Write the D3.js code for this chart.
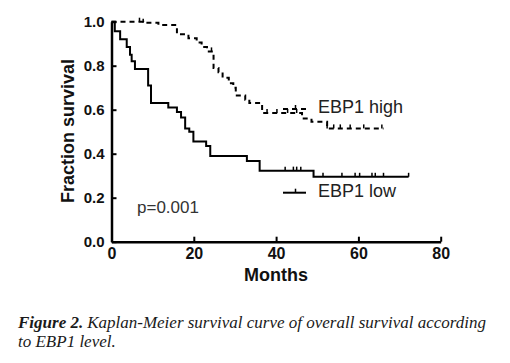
<!DOCTYPE html>
<html>
<head>
<meta charset="utf-8">
<script src="https://cdn.jsdelivr.net/npm/d3@7"></script>
<style>
  body { margin: 0; background: #fff; }
  svg { display: block; }
</style>
</head>
<body>
<div id="chart"></div>
<script>
// Kaplan-Meier steps (months, fraction surviving)
const lowTimes = [0, 0.8, 2.1, 3.7, 4.5, 4.9, 5.7, 8.9, 9.6, 13.8, 15.9, 16.9, 17.9, 18.9, 19.9, 23.0, 24.0, 32.9, 36.0, 49.1, 72.2];
const lowSurv  = [1.0, 0.957, 0.92, 0.885, 0.85, 0.82, 0.785, 0.71, 0.63, 0.61, 0.59, 0.565, 0.515, 0.50, 0.455, 0.435, 0.39, 0.367, 0.323, 0.295, 0.295];
const lowCensor = [42.2, 44.2, 45.0, 46.0, 51.4, 56.0, 59.2, 60.3, 63.3, 64.1, 66.1, 72.2];

const highTimes = [0, 7.7, 11.4, 15.9, 18.7, 20.7, 21.9, 23.2, 24.8, 26.0, 27.0, 28.5, 29.6, 30.2, 32.5, 33.5, 36.6, 46.3, 48.6, 52.4, 66.1];
const highSurv  = [1.0, 0.995, 0.985, 0.943, 0.925, 0.905, 0.885, 0.865, 0.79, 0.77, 0.745, 0.72, 0.70, 0.665, 0.645, 0.63, 0.585, 0.56, 0.545, 0.515, 0.515];
const highCensor = [6.8, 7.7, 24.3, 37.8, 40.2, 42.8, 45.0, 52.4, 54.0, 55.6, 58.0, 61.3, 65.7];

const xTicks = [0, 20, 40, 60, 80];
const yTicks = [0, 0.2, 0.4, 0.6, 0.8, 1.0];
const seriesNames = ["EBP1 high", "EBP1 low"];

function init() {
    const width = 510, height = 363;

    const svg = d3.select("#chart")
        .append("svg")
        .attr("width", width)
        .attr("height", height);

    const x = d3.scaleLinear().domain([0, 80]).range([111.5, 440.7]);
    const y = d3.scaleLinear().domain([0, 1]).range([241.7, 21.7]);

    // axes, ticks point inward
    const xAxis = svg.append("g")
        .attr("transform", `translate(0,${y(0)})`)
        .call(d3.axisBottom(x).tickValues(xTicks).tickSize(-5).tickSizeOuter(0).tickPadding(6).tickFormat(d3.format("d")));
    const yAxis = svg.append("g")
        .attr("transform", `translate(${x(0)},0)`)
        .call(d3.axisLeft(y).tickValues(yTicks).tickSize(-5).tickSizeOuter(0).tickPadding(7).tickFormat(d3.format(".1f")));

    [xAxis, yAxis].forEach(g => {
        g.select(".domain").attr("stroke", "#000").attr("stroke-width", 2.5);
        g.selectAll(".tick line").attr("stroke", "#000").attr("stroke-width", 2);
        g.selectAll(".tick text")
            .attr("fill", "#111")
            .style("font-family", "Arial, 'Liberation Sans', sans-serif")
            .style("font-weight", "bold");
    });
    xAxis.selectAll(".tick text").style("font-size", "16px");
    yAxis.selectAll(".tick text").style("font-size", "15px");

    // axis titles
    svg.append("text")
        .attr("transform", `translate(74,${131}) rotate(-90)`)
        .attr("text-anchor", "middle")
        .style("font-family", "Arial, 'Liberation Sans', sans-serif")
        .style("font-weight", "bold")
        .style("font-size", "18px")
        .attr("fill", "#111")
        .text("Fraction survival");

    svg.append("text")
        .attr("x", 276)
        .attr("y", 281)
        .attr("text-anchor", "middle")
        .style("font-family", "Arial, 'Liberation Sans', sans-serif")
        .style("font-weight", "bold")
        .style("font-size", "18px")
        .attr("fill", "#111")
        .text("Months");

    const line = d3.line()
        .x(d => x(d[0]))
        .y(d => y(d[1]))
        .curve(d3.curveStepAfter);

    const lowData = lowTimes.map((t, i) => [t, lowSurv[i]]);
    const highData = highTimes.map((t, i) => [t, highSurv[i]]);

    // survival at time t for a step curve
    function survAt(times, surv, t) {
        let s = surv[0];
        for (let i = 0; i < times.length; i++) if (times[i] <= t) s = surv[i];
        return s;
    }

    svg.append("path")
        .datum(highData)
        .attr("d", line)
        .attr("fill", "none")
        .attr("stroke", "#000")
        .attr("stroke-width", 2)
        .attr("stroke-dasharray", "5,4");

    svg.append("path")
        .datum(lowData)
        .attr("d", line)
        .attr("fill", "none")
        .attr("stroke", "#000")
        .attr("stroke-width", 2);

    // censor marks
    svg.selectAll(".cens-high")
        .data(highCensor)
        .enter()
        .append("line")
        .attr("x1", d => x(d)).attr("x2", d => x(d))
        .attr("y1", d => y(survAt(highTimes, highSurv, d)))
        .attr("y2", d => y(survAt(highTimes, highSurv, d)) - 4)
        .attr("stroke", "#000")
        .attr("stroke-width", 1.5);

    svg.selectAll(".cens-low")
        .data(lowCensor)
        .enter()
        .append("line")
        .attr("x1", d => x(d)).attr("x2", d => x(d))
        .attr("y1", d => y(survAt(lowTimes, lowSurv, d)))
        .attr("y2", d => y(survAt(lowTimes, lowSurv, d)) - 4)
        .attr("stroke", "#000")
        .attr("stroke-width", 1.5);

    // legend
    const legend = [
        { name: seriesNames[0], ly: 109, ty: 112.7, dash: "5,4" },
        { name: seriesNames[1], ly: 192.7, ty: 196.7, dash: null }
    ];
    legend.forEach(l => {
        svg.append("line")
            .attr("x1", 283).attr("x2", 306)
            .attr("y1", l.ly).attr("y2", l.ly)
            .attr("stroke", "#000").attr("stroke-width", 2)
            .attr("stroke-dasharray", l.dash);
        svg.append("line")
            .attr("x1", 295.5).attr("x2", 295.5)
            .attr("y1", l.ly).attr("y2", l.ly - 4)
            .attr("stroke", "#000").attr("stroke-width", 1.5);
        svg.append("text")
            .attr("x", 318)
            .attr("y", l.ty)
            .style("font-family", "Arial, 'Liberation Sans', sans-serif")
            .style("font-size", "18px")
            .attr("fill", "#222")
            .text(l.name);
    });

    svg.append("text")
        .attr("x", 137)
        .attr("y", 213.3)
        .style("font-family", "Arial, 'Liberation Sans', sans-serif")
        .style("font-size", "17px")
        .attr("fill", "#333")
        .text("p=0.001");

    // caption: bold label, then the rest placed right after it
    const capFont = "'Liberation Serif', 'Times New Roman', serif";
    const capLabel = svg.append("text")
        .attr("x", 18)
        .attr("y", 328)
        .style("font-family", capFont)
        .style("font-style", "italic")
        .style("font-weight", "bold")
        .style("font-size", "17px")
        .attr("fill", "#1a1a1a")
        .text("Figure 2.");
    const labelW = capLabel.node().getComputedTextLength();

    svg.append("text")
        .attr("x", 18 + labelW + 4)
        .attr("y", 328)
        .style("font-family", capFont)
        .style("font-style", "italic")
        .style("font-size", "17px")
        .attr("fill", "#1a1a1a")
        .text("Kaplan-Meier survival curve of overall survival according");

    svg.append("text")
        .attr("x", 18)
        .attr("y", 347)
        .style("font-family", capFont)
        .style("font-style", "italic")
        .style("font-size", "17px")
        .attr("fill", "#1a1a1a")
        .text("to EBP1 level.");
}

window.onload = init;
</script>
</body>
</html>
